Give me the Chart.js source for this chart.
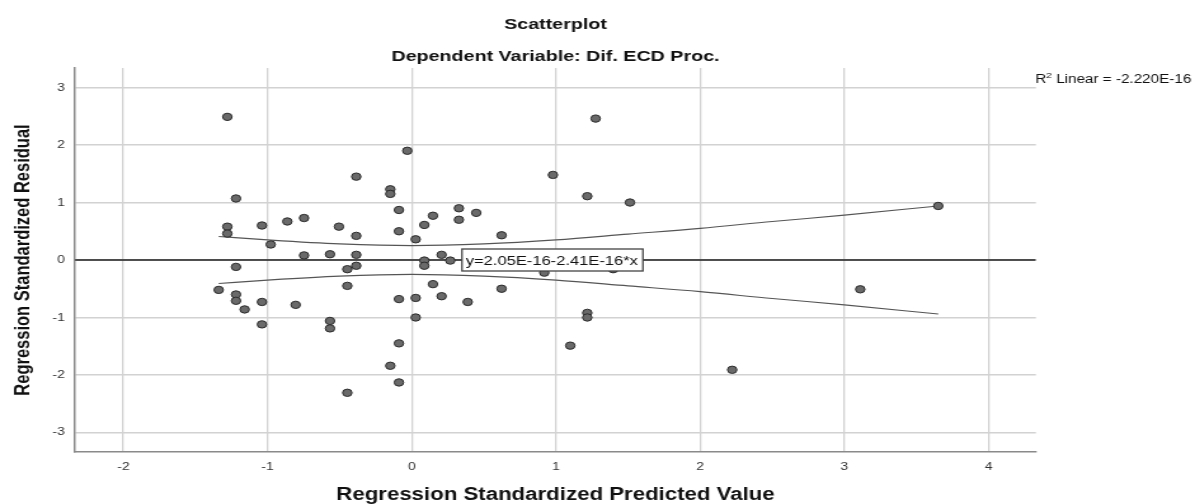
<!DOCTYPE html>
<html>
<head>
<meta charset="utf-8">
<script src="https://cdn.jsdelivr.net/npm/chart.js@4.4.1/dist/chart.umd.min.js"></script>
<style>
  html, body { margin: 0; padding: 0; background: #fff; overflow: hidden; }
  #wrap { width: 941px; height: 504px; transform: scaleX(1.26993); transform-origin: 0 0; }
  canvas { display: block; }
</style>
</head>
<body>
<div id="wrap"><canvas id="c" width="941" height="504"></canvas></div>
<script>
// ---- data ----
const predictedValues = [
  -1.279, -1.219, -1.279, -1.279, -1.039, -0.863, -0.978, -1.219, -1.339, -1.219,
  -1.219, -1.159, -1.039, -0.805, -1.039, -0.747, -0.505, -0.385, -0.089, -0.089,
   0.027,  0.087,  0.147,  0.327,  0.327,  0.447,  0.623, -0.747, -0.567, -0.385,
  -0.385, -0.447,  0.087,  0.087,  0.207,  0.267,  0.919, -0.447,  0.147,  0.207,
   0.027, -0.089,  0.388,  0.623, -0.567, -0.567,  0.027, -0.089,  1.099, -0.031,
  -0.385, -0.149, -0.149,  0.979, -0.149, -0.089, -0.447,  1.275,  1.217,  1.513,
   1.397,  1.217,  1.217,  3.110,  2.222,  3.651
];
const residualValues = [
   2.49,  1.07,  0.58,  0.46,  0.60,  0.67,  0.27, -0.12, -0.52, -0.60,
  -0.71, -0.86, -0.73, -0.78, -1.12,  0.73,  0.58,  0.42,  0.87,  0.50,
   0.36,  0.61,  0.77,  0.90,  0.70,  0.82,  0.43,  0.08,  0.10,  0.09,
  -0.10, -0.16, -0.01, -0.10,  0.09, -0.01, -0.22, -0.45, -0.42, -0.63,
  -0.66, -0.68, -0.73, -0.50, -1.06, -1.19, -1.00, -1.45, -1.49,  1.90,
   1.45,  1.23,  1.15,  1.48, -1.84, -2.13, -2.31,  2.46,  1.11,  1.00,
  -0.16, -0.92, -1.00, -0.51, -1.91,  0.94
];
// confidence band curves
const bandX     = [-1.339, -1.0, -0.5, 0.0, 0.5, 1.0, 1.5, 2.0, 2.5, 3.0, 3.651];
const bandUpper = [ 0.41, 0.35, 0.28, 0.25, 0.28, 0.35, 0.45, 0.55, 0.67, 0.78, 0.94];
const bandLower = [-0.41,-0.35,-0.28,-0.25,-0.28,-0.35,-0.45,-0.55,-0.67,-0.78,-0.94];
// fit line
const fitX = [-2.335, 4.328];
const fitY = [0, 0];
// axes
const xRange = [-2.335, 4.328];
const yRange = [-3.34, 3.34];
const xTicks = [-2, -1, 0, 1, 2, 3, 4];
const yTicks = [-3, -2, -1, 0, 1, 2, 3];
// texts
const titleText = "Scatterplot";
const subtitleText = "Dependent Variable: Dif. ECD Proc.";
const xTitle = "Regression Standardized Predicted Value";
const yTitle = "Regression Standardized Residual";
const equationText = "y=2.05E-16-2.41E-16*x";
const equationAt = [0.348, 0];
const r2Prefix = "R";
const r2Sup = "2";
const r2Rest = " Linear = -2.220E-16";

const FONT = "'Liberation Sans', Arial, Helvetica, sans-serif";

const points = predictedValues.map((x, i) => ({ x, y: residualValues[i] }));
const upper = bandX.map((x, i) => ({ x, y: bandUpper[i] }));
const lower = bandX.map((x, i) => ({ x, y: bandLower[i] }));
const fit = fitX.map((x, i) => ({ x, y: fitY[i] }));

const textPlugin = {
  id: 'texts',
  afterDatasetsDraw(chart) {
    const { ctx, chartArea, scales } = chart;
    // equation box
    const bx = scales.x.getPixelForValue(equationAt[0]);
    const by = scales.y.getPixelForValue(equationAt[1]);
    ctx.save();
    ctx.font = "13px " + FONT;
    const tw = ctx.measureText(equationText).width;
    const bw = tw + 7, bh = 22;
    ctx.fillStyle = '#fff';
    ctx.fillRect(bx, by - bh / 2, bw, bh);
    ctx.strokeStyle = '#444';
    ctx.lineWidth = 1.3;
    ctx.strokeRect(bx, by - bh / 2, bw, bh);
    ctx.fillStyle = '#111';
    ctx.textBaseline = 'middle';
    ctx.textAlign = 'left';
    ctx.fillText(equationText, bx + 3, by + 1);
    ctx.restore();
  },
  afterDraw(chart) {
    const { ctx, chartArea } = chart;
    const cx = (chartArea.left + chartArea.right) / 2;
    ctx.save();
    ctx.fillStyle = '#111';
    ctx.textAlign = 'center';
    ctx.textBaseline = 'alphabetic';
    ctx.font = "bold 15.5px " + FONT;
    ctx.fillText(titleText, cx, 29);
    ctx.fillText(subtitleText, cx, 61);
    ctx.font = "bold 17.5px " + FONT;
    ctx.fillText(xTitle, cx, 500);
    // y title
    ctx.save();
    ctx.translate(18, (chartArea.top + chartArea.bottom) / 2);
    ctx.rotate(-Math.PI / 2);
    ctx.font = "bold 16.5px " + FONT;
    ctx.textBaseline = 'middle';
    ctx.fillText(yTitle, 0, 0);
    ctx.restore();
    // R2 label
    ctx.textAlign = 'left';
    ctx.font = "12px " + FONT;
    let x = chartArea.right - 0.5;
    const base = 83;
    ctx.fillText(r2Prefix, x, base);
    x += ctx.measureText(r2Prefix).width;
    ctx.font = "8px " + FONT;
    ctx.fillText(r2Sup, x, base - 5);
    x += ctx.measureText(r2Sup).width;
    ctx.font = "12px " + FONT;
    ctx.fillText(r2Rest, x, base);
    ctx.restore();
  }
};

new Chart(document.getElementById('c'), {
  type: 'scatter',
  data: {
    datasets: [
      {
        label: 'Residuals',
        data: points,
        backgroundColor: '#6a6a6a',
        borderColor: '#2b2b2b',
        borderWidth: 1,
        pointRadius: 3.7,
        pointHoverRadius: 3.7
      },
      {
        type: 'line',
        label: 'Fit',
        data: fit,
        borderColor: '#1e1e1e',
        borderWidth: 1.4,
        pointRadius: 0,
        fill: false
      },
      {
        type: 'line',
        label: 'Upper',
        data: upper,
        borderColor: '#555',
        borderWidth: 1.1,
        pointRadius: 0,
        tension: 0.4,
        cubicInterpolationMode: 'monotone',
        fill: false
      },
      {
        type: 'line',
        label: 'Lower',
        data: lower,
        borderColor: '#555',
        borderWidth: 1.1,
        pointRadius: 0,
        tension: 0.4,
        cubicInterpolationMode: 'monotone',
        fill: false
      }
    ]
  },
  options: {
    responsive: false,
    animation: false,
    events: [],
    layout: { padding: { left: 0, right: 125.3, top: 68, bottom: 0 } },
    plugins: {
      legend: { display: false },
      tooltip: { enabled: false },
      title: { display: false }
    },
    scales: {
      x: {
        type: 'linear',
        min: xRange[0],
        max: xRange[1],
        afterFit(s) { s.height = 52; },
        afterBuildTicks(s) { s.ticks = xTicks.map(v => ({ value: v })); },
        grid: { color: '#d2d2d2', lineWidth: 1.3, drawTicks: false },
        border: { display: true, color: '#8a8a8a', width: 1.6 },
        ticks: { color: '#333', font: { family: FONT, size: 11 }, padding: 8, maxRotation: 0 }
      },
      y: {
        type: 'linear',
        min: yRange[0],
        max: yRange[1],
        afterFit(s) { s.width = 59.1; },
        afterBuildTicks(s) { s.ticks = yTicks.map(v => ({ value: v })); },
        grid: { color: '#d2d2d2', lineWidth: 1.6, drawTicks: false },
        border: { display: true, color: '#8a8a8a', width: 1.5 },
        ticks: { color: '#333', font: { family: FONT, size: 11 }, padding: 8 }
      }
    }
  },
  plugins: [textPlugin]
});
</script>
</body>
</html>
